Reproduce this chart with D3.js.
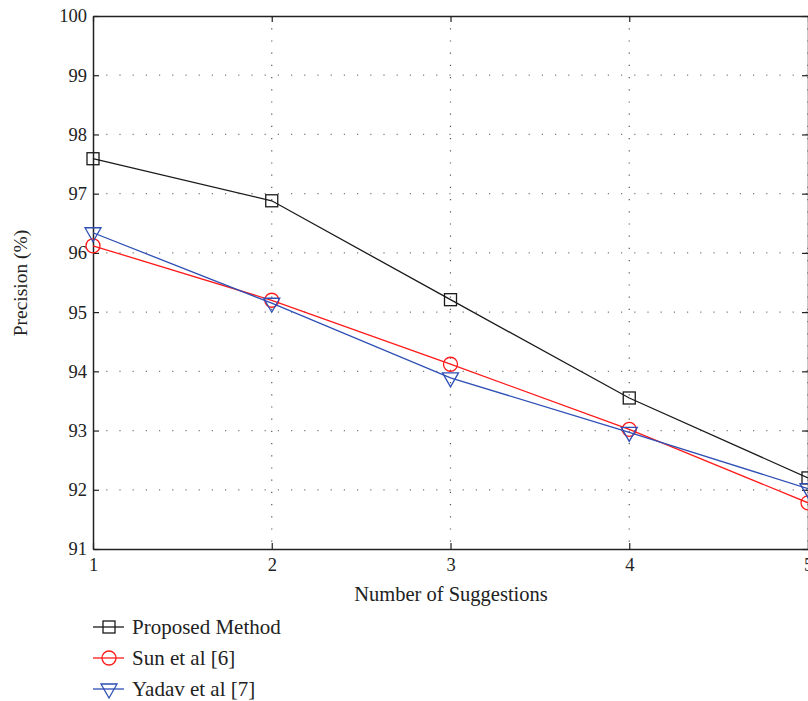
<!DOCTYPE html>
<html><head><meta charset="utf-8">
<script src="https://cdn.jsdelivr.net/npm/d3@7"></script>
<style>body{margin:0;background:#fff}svg{display:block}text{font-family:"Liberation Serif","DejaVu Serif",serif;fill:#222}</style>
</head><body><svg id="c" width="808" height="701"></svg>
<script>
const xValues = [1, 2, 3, 4, 5];
const proposed = [97.59, 96.88, 95.21, 93.55, 92.2];
const sun = [96.12, 95.2, 94.12, 93.02, 91.78];
const yadav = [96.34, 95.15, 93.89, 92.97, 92.02];
const yTicks = [91, 92, 93, 94, 95, 96, 97, 98, 99, 100];
const seriesNames = ["Proposed Method", "Sun et al [6]", "Yadav et al [7]"];
const seriesColors = ["#1a1a1a", "#ff1a1a", "#2e4fb5"];
const seriesMarkers = ["square", "circle", "triangle"];

const svg = d3.select("#c");
const L = 93, T = 16, R = 808, B = 549;
const x = d3.scaleLinear().domain([1, 5]).range([L, R]);
const y = d3.scaleLinear().domain([91, 100]).range([B, T]);

// grid
const g = svg.append("g");
g.selectAll(".hg").data(yTicks.slice(1, -1)).enter().append("line")
  .attr("x1", L).attr("x2", R + 10).attr("y1", d => y(d)).attr("y2", d => y(d))
  .attr("stroke", "#777").attr("stroke-width", 1.2).attr("stroke-dasharray", "1.2,12");
g.selectAll(".vg").data(xValues.slice(1)).enter().append("line")
  .attr("y1", T).attr("y2", B).attr("x1", d => x(d)).attr("x2", d => x(d))
  .attr("stroke", "#555").attr("stroke-width", 1.2).attr("stroke-dasharray", "1.2,11");

// axes
const ax = svg.append("g");
const xAxisB = d3.axisBottom(x).tickValues(xValues).tickSizeInner(-6).tickSizeOuter(0).tickPadding(9).tickFormat(d3.format("d"));
const xAxisT = d3.axisTop(x).tickValues(xValues).tickSizeInner(-6).tickSizeOuter(0).tickFormat("");
const yAxisL = d3.axisLeft(y).tickValues(yTicks).tickSizeInner(-6).tickSizeOuter(0).tickPadding(6).tickFormat(d3.format("d"));
const yAxisR = d3.axisRight(y).tickValues(yTicks).tickSizeInner(-6).tickSizeOuter(0).tickFormat("");
function style(sel){ sel.attr("font-size", 18).attr("font-family", "Liberation Serif");
  sel.selectAll("path").attr("stroke","#222").attr("stroke-width",1.5);
  sel.selectAll("line").attr("stroke","#222").attr("stroke-width",1.2);
  sel.selectAll("text").attr("font-size",18.5).attr("fill","#222"); }
ax.append("g").attr("transform",`translate(0,${B})`).call(xAxisB).call(style);
ax.append("g").attr("transform",`translate(0,${T})`).call(xAxisT).call(style);
ax.append("g").attr("transform",`translate(${L},0)`).call(yAxisL).call(style);
ax.append("g").attr("transform",`translate(${R},0)`).call(yAxisR).call(style);

// series
const data = [proposed, sun, yadav];
function marker(sel, type, color){
  if(type==="square") sel.append("rect").attr("x",-6).attr("y",-6).attr("width",12).attr("height",12)
    .attr("fill","none").attr("stroke",color).attr("stroke-width",1.3);
  else if(type==="circle") sel.append("circle").attr("r",7).attr("fill","none").attr("stroke",color).attr("stroke-width",1.3);
  else sel.append("path").attr("d","M-8,-5L8,-5L0,9Z").attr("fill","none").attr("stroke",color).attr("stroke-width",1.3);
}
const line = d3.line().x((d,i)=>x(xValues[i])).y(d=>y(d));
data.forEach((vals, si) => {
  const sg = svg.append("g");
  sg.append("path").datum(vals).attr("d", line).attr("fill","none").attr("stroke",seriesColors[si]).attr("stroke-width",1.3);
  vals.forEach((v,i)=>{ const m = sg.append("g").attr("transform",`translate(${x(xValues[i])},${y(v)})`); marker(m, seriesMarkers[i] ? seriesMarkers[si] : seriesMarkers[si], seriesColors[si]); });
});

// labels
svg.append("text").attr("x", 451).attr("y", 601).attr("text-anchor","middle").attr("font-size",20.5).text("Number of Suggestions");
svg.append("text").attr("transform","translate(27,283) rotate(-90)").attr("text-anchor","middle").attr("font-size",19.5).text("Precision (%)");

// legend
seriesNames.forEach((n, i) => {
  const ly = 627 + i * 31;
  const lg = svg.append("g").attr("transform",`translate(0,${ly})`);
  lg.append("line").attr("x1",93).attr("x2",124).attr("y1",0).attr("y2",0).attr("stroke",seriesColors[i]).attr("stroke-width",1.3);
  const m = lg.append("g").attr("transform","translate(109,0)"); marker(m, seriesMarkers[i], seriesColors[i]);
  lg.append("text").attr("x",132).attr("y",7).attr("font-size",21).text(n);
});
</script></body></html>
